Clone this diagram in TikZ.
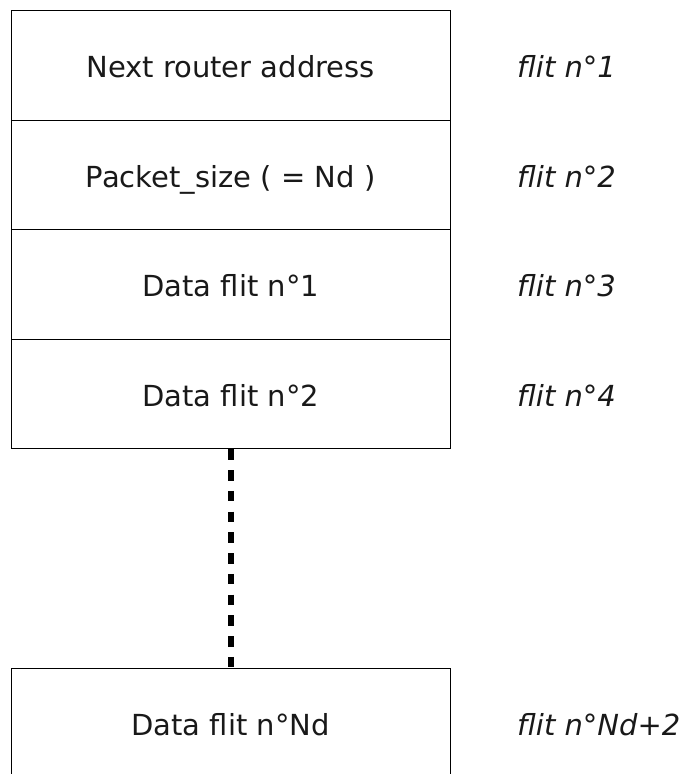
\documentclass[tikz,border=0pt]{standalone}
\usepackage{fontspec}
\setmainfont{DejaVu Sans}
\begin{document}
\begin{tikzpicture}[x=1pt,y=-1pt,
  cell/.style={draw=black, line width=1.3pt, rectangle, minimum width=439pt, minimum height=109.5pt, inner sep=0pt, anchor=north west},
  lbl/.style={font=\fontsize{29pt}{34pt}\selectfont, text=black!90, inner sep=0pt, anchor=base},
  flitlbl/.style={font=\fontsize{29pt}{34pt}\selectfont\itshape, text=black!90, inner sep=0pt, anchor=base west},
  dots/.style={line width=5.5pt, dash pattern=on 10.5pt off 10.25pt}]
\useasboundingbox (0,0) rectangle (687,774);
\begin{scope}
\clip (0,0) rectangle (687,774);
\node[cell] (r1) at (10.5,10) {};
\node[cell] (r2) at (10.5,119.5) {};
\node[cell] (r3) at (10.5,229) {};
\node[cell] (r4) at (10.5,338.5) {};
\node[cell] (r5) at (10.5,667.5) {};
\end{scope}
\node[lbl] (t1) at ([yshift=-12.5pt]r1.center) {Next router address};
\node[lbl] (t2) at ([yshift=-12.5pt]r2.center) {Packet\_size ( = Nd )};
\node[lbl] (t3) at ([yshift=-12.5pt]r3.center) {Data flit n°1};
\node[lbl] (t4) at ([yshift=-12.5pt]r4.center) {Data flit n°2};
\node[lbl] (t5) at ([yshift=-12.5pt]r5.center) {Data flit n°Nd};
\node[flitlbl] (f1) at ([yshift=-12.5pt]r1.center -| 517,0) {flit n°1};
\node[flitlbl] (f2) at ([yshift=-12.5pt]r2.center -| 517,0) {flit n°2};
\node[flitlbl] (f3) at ([yshift=-12.5pt]r3.center -| 517,0) {flit n°3};
\node[flitlbl] (f4) at ([yshift=-12.5pt]r4.center -| 517,0) {flit n°4};
\node[flitlbl] (f5) at ([yshift=-12.5pt]r5.center -| 517,0) {flit n°Nd+2};
\draw[dots] ([xshift=0.3pt]r4.south) -- ([xshift=0.3pt]r5.north);
\end{tikzpicture}
\end{document}
